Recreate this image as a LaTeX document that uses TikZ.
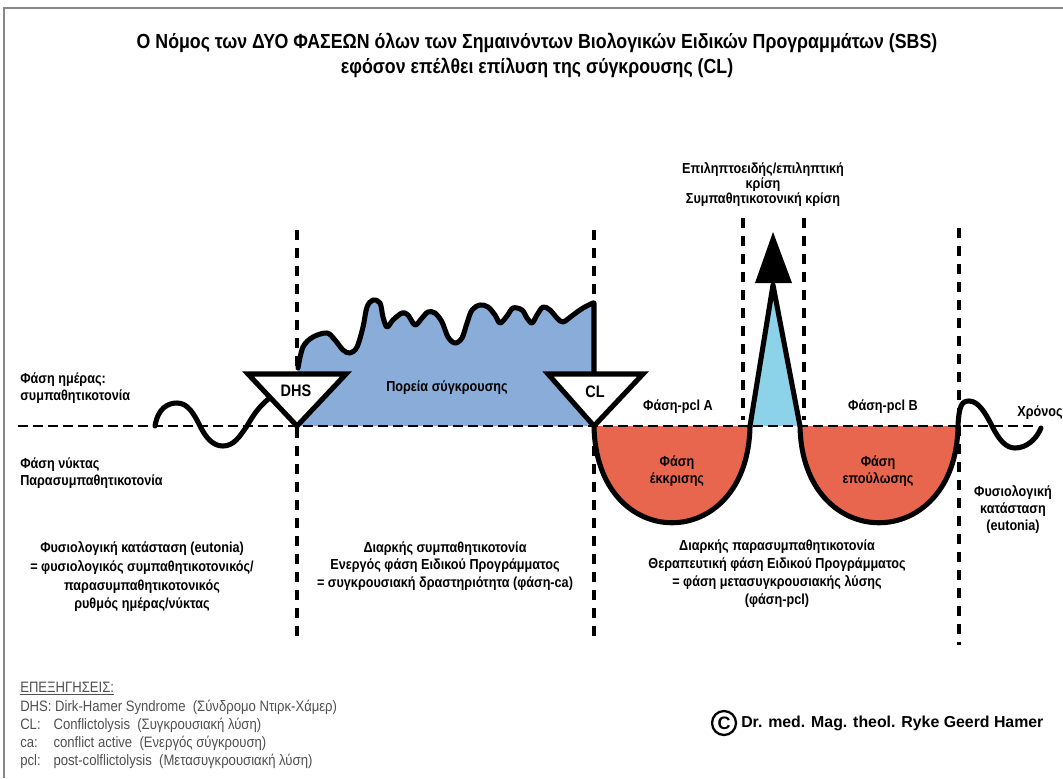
\documentclass[tikz,border=0pt]{standalone}
\usepackage{fontspec}
\setmainfont{Liberation Sans}
\newfontfamily\nar[FakeStretch=0.87]{Liberation Sans}
\usetikzlibrary{calc}
\definecolor{blueA}{RGB}{137,172,217}
\definecolor{blueB}{RGB}{140,210,232}
\definecolor{redA}{RGB}{232,102,78}
\definecolor{legendgray}{RGB}{80,80,80}
\definecolor{framegray}{RGB}{135,135,135}
\begin{document}
\begin{tikzpicture}[x=0.75pt,y=-0.75pt,
  lbl/.style={font=\nar\bfseries\fontsize{10.9}{12.75}\selectfont, inner sep=0pt, align=center},
  curve/.style={line width=3.8pt, line cap=round, line join=round},
  vdash/.style={line width=3pt, dash pattern=on 7.5pt off 6pt},
  hdash/.style={line width=2.2pt, dash pattern=on 7.5pt off 3.75pt},
  tri/.style={line width=3.8pt, line join=miter, fill=white},
  legend/.style={font=\nar\fontsize{11.3}{12}\selectfont, text=legendgray, inner sep=0pt, anchor=west}]
\useasboundingbox (0,0) rectangle (1063,778);
\fill[white] (0,0) rectangle (1063,778);
\draw[framegray, line width=1.5pt] (4,778) -- (4,8) -- (1063,8);

% vertical dashed lines
\draw[vdash] (297,230) -- (297,640);
\draw[vdash] (594,230) -- (594,640);
\draw[vdash] (743,218) -- (743,420);
\draw[vdash] (804,218) -- (804,420);
\draw[vdash] (959,228) -- (959,645);

% fills
\fill[blueA] (297,426) -- plot[smooth,tension=0.55] coordinates {(298,368) (303,347) (313,337) (327,333) (335,340) (343,350) (350,353) (357,347) (363,327) (367,307) (373,300) (380,303) (383,317) (387,327) (393,320) (402,313) (408,315) (415,325) (422,318) (428,312) (435,313) (442,322) (448,337) (455,343) (462,338) (467,323) (472,310) (480,305) (488,307) (495,315) (500,323) (507,316) (513,308) (522,310) (527,318) (532,323) (537,315) (543,307) (550,310) (557,318) (563,322) (573,315) (583,308) (593,303)} -- (594,426) -- cycle;
\fill[redA] (594,426) .. controls (596,555) and (748,555) .. (750,426) -- cycle;
\fill[redA] (800,426) .. controls (802,555) and (956,555) .. (958,426) -- cycle;
\fill[blueB] (750,426) -- (773,285) -- (800,426) -- cycle;

% outline of conflict course
\draw[curve] plot[smooth,tension=0.55] coordinates {(298,368) (303,347) (313,337) (327,333) (335,340) (343,350) (350,353) (357,347) (363,327) (367,307) (373,300) (380,303) (383,317) (387,327) (393,320) (402,313) (408,315) (415,325) (422,318) (428,312) (435,313) (442,322) (448,337) (455,343) (462,338) (467,323) (472,310) (480,305) (488,307) (495,315) (500,323) (507,316) (513,308) (522,310) (527,318) (532,323) (537,315) (543,307) (550,310) (557,318) (563,322) (573,315) (583,308) (593,303)} -- (594,303) -- (594,378);

% main curve
\draw[curve] (594,426) .. controls (596,555) and (748,555) .. (750,426) -- (773,285) -- (800,426) .. controls (802,555) and (956,555) .. (958,426) .. controls (959,405) and (962,401) .. (969,401) .. controls (978,401) and (985,412) .. (992,426) .. controls (999,440) and (1006,448) .. (1015,448) .. controls (1026,448) and (1036,440) .. (1041,428);
\fill (755,283) -- (792,283) -- (773,232) -- cycle;

% left wave
\draw[curve] (155,426) .. controls (158,408) and (168,403) .. (177,403) .. controls (188,403) and (194,414) .. (200,426) .. controls (206,438) and (213,446) .. (223,446) .. controls (234,446) and (240,436) .. (247,426) .. controls (255,412) and (263,400) .. (285,388);

% triangles
\draw[tri] (248,374) -- (346,374) -- (297,426) -- cycle;
\node[lbl, font=\nar\bfseries\fontsize{12.5}{14}\selectfont] (dhs) at (296,391) {DHS};
\draw[tri] (548,374) -- (643,374) -- (594,426) -- cycle;
\node[lbl, font=\nar\bfseries\fontsize{12.5}{14}\selectfont] (cl) at (595,392) {CL};

% baseline
\draw[hdash] (18,426) -- (1035,426);

% title
\node[font=\nar\bfseries\fontsize{15.3}{18.75}\selectfont, align=center, inner sep=0pt] (title) at (537,55) {Ο Νόμος των ΔΥΟ ΦΑΣΕΩΝ όλων των Σημαινόντων Βιολογικών Ειδικών Προγραμμάτων (SBS)\\εφόσον επέλθει επίλυση της σύγκρουσης (CL)};

% labels
\node[lbl, align=left, anchor=west] (day) at (20,388) {Φάση ημέρας:\\συμπαθητικοτονία};
\node[lbl, align=left, anchor=west] (night) at (20,473) {Φάση νύκτας\\Παρασυμπαθητικοτονία};
\node[lbl] (course) at (447,388) {Πορεία σύγκρουσης};
\node[lbl] (pclA) at (678,407) {Φάση-pcl A};
\node[lbl] (pclB) at (883,407) {Φάση-pcl B};
\node[lbl] (excr) at (677,471) {Φάση\\έκκρισης};
\node[lbl] (heal) at (878,471) {Φάση\\επούλωσης};
\node[lbl, font=\nar\bfseries\fontsize{10.9}{11.25}\selectfont] (crisis) at (763,185) {Επιληπτοειδής/επιληπτική\\κρίση\\Συμπαθητικοτονική κρίση};
\node[lbl] (time) at (1040,413) {Χρόνος};
\node[lbl] (eut) at (1013,510) {Φυσιολογική\\κατάσταση\\(eutonia)};
\node[lbl, font=\nar\bfseries\fontsize{10.9}{14}\selectfont] (normal) at (142,577) {Φυσιολογική κατάσταση (eutonia)\\= φυσιολογικός συμπαθητικοτονικός/\\παρασυμπαθητικοτονικός\\ρυθμός ημέρας/νύκτας};
\node[lbl, font=\nar\bfseries\fontsize{10.9}{13.2}\selectfont] (ca) at (445,566) {Διαρκής συμπαθητικοτονία\\Ενεργός φάση Ειδικού Προγράμματος\\= συγκρουσιακή δραστηριότητα (φάση-ca)};
\node[lbl, font=\nar\bfseries\fontsize{10.9}{13.5}\selectfont] (pcl) at (777,574) {Διαρκής παρασυμπαθητικοτονία\\Θεραπευτική φάση Ειδικού Προγράμματος\\= φάση μετασυγκρουσιακής λύσης\\(φάση-pcl)};

% legend
\node[legend] (lg0) at (20,689) {\underline{ΕΠΕΞΗΓΗΣΕΙΣ:}};
\node[legend] (lg1) at (20,707) {DHS: Dirk-Hamer Syndrome\ \ (Σύνδρομο Ντιρκ-Χάμερ)};
\node[legend] (lg2) at (20,725) {\makebox[25pt][l]{CL:}Conflictolysis\ \ (Συγκρουσιακή λύση)};
\node[legend] (lg3) at (20,743) {\makebox[25pt][l]{ca:}conflict active\ \ (Ενεργός σύγκρουση)};
\node[legend] (lg4) at (20,761) {\makebox[25pt][l]{pcl:}post-colflictolysis\ \ (Μετασυγκρουσιακή λύση)};

% copyright
\node[circle, draw, line width=1.7pt, minimum size=18pt, inner sep=0pt, font=\bfseries\fontsize{13.5}{13.5}\selectfont] (copy) at (724,723) {C};
\node[font=\bfseries\fontsize{11.9}{14}\selectfont, anchor=west, inner sep=0pt] (author) at (741,723) {Dr. med. Mag. theol. Ryke Geerd Hamer};
\end{tikzpicture}
\end{document}
